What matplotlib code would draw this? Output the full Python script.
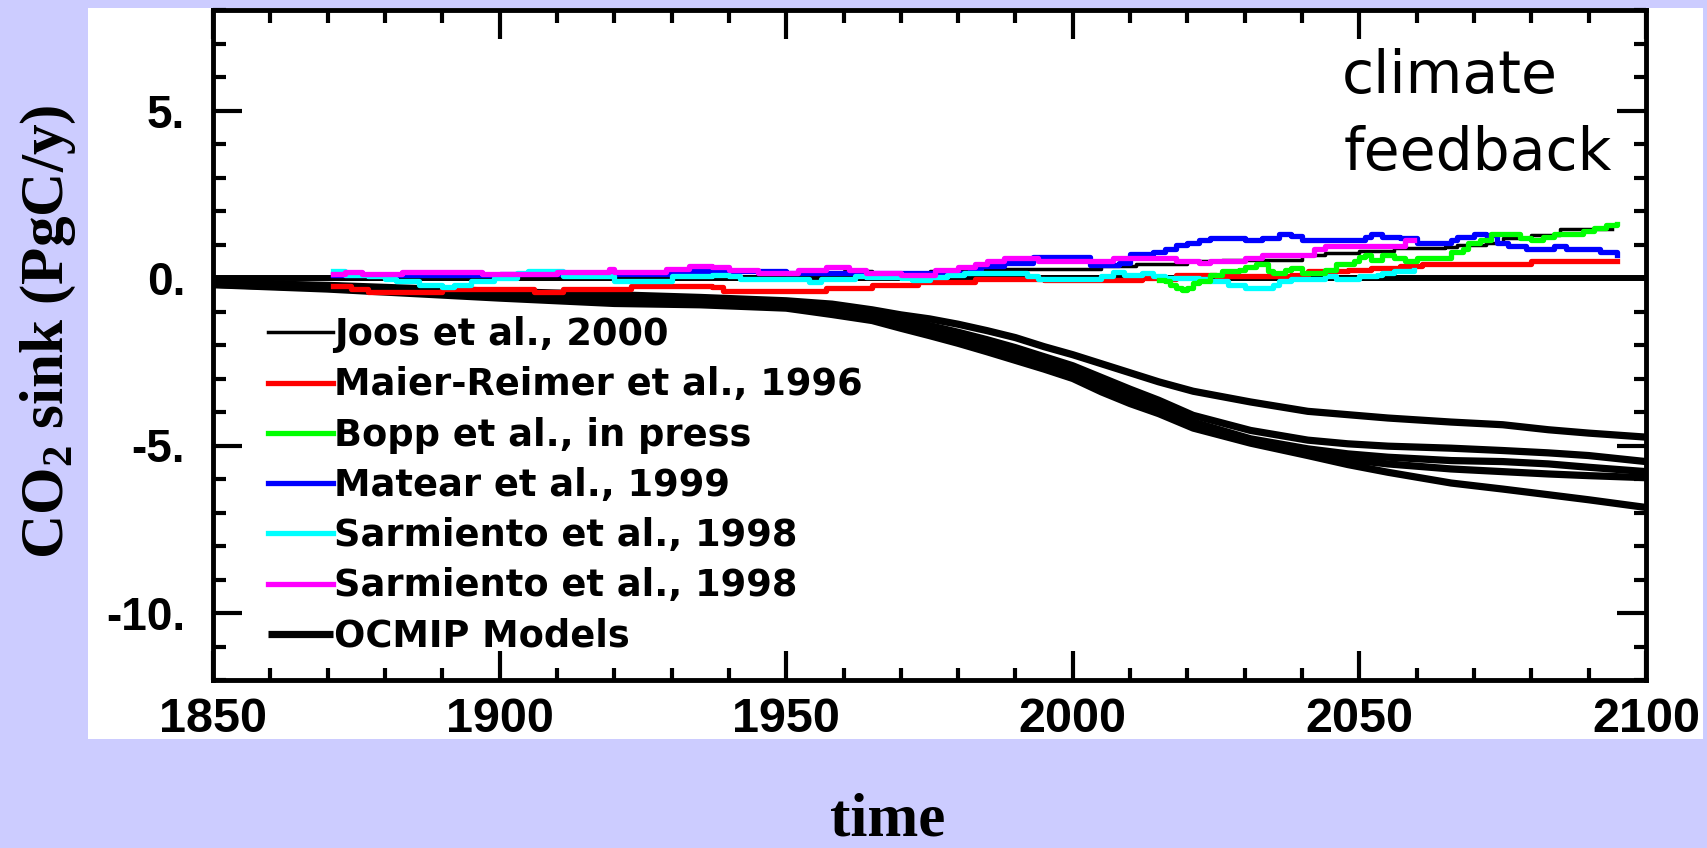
import numpy as np
import matplotlib
matplotlib.use("Agg")
import matplotlib.pyplot as plt
from matplotlib.patches import Rectangle
from matplotlib.ticker import MultipleLocator, FuncFormatter

# ---- data ----
joos_year = [1850, 1870, 1890, 1910, 1925, 1935, 1940, 1945, 1955, 1960, 1965, 1975, 1983, 2002,
             2005, 2011, 2017, 2020, 2026, 2034, 2040, 2044, 2050, 2056, 2065, 2067, 2072, 2075,
             2080, 2085, 2094]
joos_val = [0.0, 0.0, 0.05, 0.08, 0.15, 0.2, 0.2, 0.1, 0.1, 0.2, 0.15, 0.2, 0.28, 0.28,
            0.35, 0.42, 0.42, 0.5, 0.55, 0.55, 0.7, 0.75, 0.82, 0.9, 0.92, 1.0, 1.05, 1.18,
            1.27, 1.45, 1.45]

maier_year = [1871, 1874, 1877, 1888, 1890, 1904, 1906, 1909, 1911, 1921, 1923, 1937, 1939, 1955,
              1957, 1963, 1965, 1971, 1973, 1981, 1983, 1991, 1995, 2005, 2012, 2015, 2018, 2022,
              2025, 2035, 2038, 2041, 2044, 2048, 2052, 2057, 2061, 2078, 2080, 2095]
maier_val = [-0.25, -0.33, -0.43, -0.43, -0.33, -0.33, -0.43, -0.43, -0.33, -0.33, -0.25, -0.28,
             -0.38, -0.38, -0.3, -0.3, -0.2, -0.2, -0.12, -0.12, -0.03, -0.03, -0.05, -0.05, 0.0,
             -0.03, 0.1, 0.1, 0.06, 0.06, 0.1, 0.2, 0.2, 0.25, 0.3, 0.35, 0.42, 0.42, 0.51, 0.51]

bopp_year = [2015, 2016, 2017, 2018, 2019, 2020, 2021, 2022, 2024, 2026, 2029, 2030, 2032, 2034,
             2035, 2037, 2038, 2040, 2042, 2044, 2046, 2049, 2050, 2051, 2052, 2054, 2056, 2058,
             2060, 2064, 2066, 2068, 2069, 2071, 2073, 2076, 2078, 2080, 2082, 2084, 2088, 2089,
             2091, 2093, 2095]
bopp_val = [-0.05, -0.1, -0.2, -0.3, -0.35, -0.3, -0.15, -0.1, 0.1, 0.2, 0.25, 0.33, 0.42, 0.2,
            0.15, 0.25, 0.3, 0.15, 0.15, 0.25, 0.42, 0.51, 0.62, 0.7, 0.55, 0.7, 0.6, 0.5,
            0.6, 0.6, 0.78, 0.86, 1.04, 1.13, 1.3, 1.3, 1.2, 1.13, 1.22, 1.3, 1.3, 1.4,
            1.48, 1.58, 1.6]

matear_year = [1871, 1900, 1930, 1950, 1970, 1982, 1984, 1988, 1991, 1993, 1998, 2001, 2003, 2007,
               2008, 2010, 2014, 2016, 2018, 2020, 2022, 2024, 2028, 2030, 2033, 2036, 2038, 2040,
               2049, 2051, 2052, 2054, 2057, 2060, 2064, 2066, 2067, 2070, 2072, 2074, 2076, 2079,
               2083, 2084, 2086, 2090, 2092, 2095]
matear_val = [0.1, 0.12, 0.2, 0.15, 0.15, 0.28, 0.36, 0.46, 0.46, 0.62, 0.64, 0.64, 0.4, 0.4,
              0.46, 0.73, 0.78, 0.86, 1.0, 1.04, 1.13, 1.2, 1.2, 1.13, 1.2, 1.31, 1.25, 1.13,
              1.13, 1.22, 1.31, 1.22, 1.2, 1.04, 1.04, 1.13, 1.22, 1.31, 1.28, 1.04, 0.95, 0.86,
              0.86, 0.95, 0.86, 0.86, 0.78, 0.69]

sarm_a_year = [1871, 1873, 1877, 1880, 1882, 1886, 1890, 1892, 1895, 1899, 1903, 1905, 1909, 1911,
               1919, 1920, 1929, 1930, 1937, 1940, 1942, 1953, 1954, 1956, 1960, 1962, 1964, 1970,
               1972, 1975, 1978, 1981, 1990, 1992, 1994, 2002, 2005, 2007, 2009, 2012, 2014, 2016,
               2022, 2024, 2027, 2030, 2033, 2035, 2036, 2038, 2042, 2044, 2046, 2049, 2050, 2053,
               2054, 2056, 2059.5]
sarm_a_val = [0.2, 0.1, 0.05, -0.03, -0.1, -0.2, -0.28, -0.2, -0.1, 0.0, 0.15, 0.2, 0.2, 0.05,
              0.05, -0.1, -0.1, 0.05, 0.1, 0.06, -0.03, -0.03, -0.12, -0.03, -0.03, 0.06, 0.03, 0.0,
              -0.05, 0.03, 0.1, 0.15, 0.15, 0.06, -0.03, -0.03, 0.06, 0.18, 0.1, 0.15, 0.06, 0.0,
              -0.03, -0.1, -0.2, -0.3, -0.3, -0.2, -0.1, -0.03, -0.03, 0.06, -0.03, -0.03, 0.06, 0.1,
              0.15, 0.2, 0.25]

sarm_b_year = [1871, 1873, 1876, 1883, 1897, 1910, 1919, 1920, 1929, 1933, 1937, 1940, 1945, 1952,
               1957, 1961, 1964, 1970, 1976, 1980, 1983, 1985, 1988, 1993, 1994, 2006, 2007, 2016,
               2018, 2022, 2024, 2030, 2033, 2040, 2042, 2044, 2056, 2058, 2059.5]
sarm_b_val = [0.11, 0.19, 0.11, 0.19, 0.11, 0.19, 0.27, 0.19, 0.27, 0.35, 0.33, 0.24, 0.15, 0.24,
              0.33, 0.24, 0.15, 0.1, 0.24, 0.33, 0.42, 0.51, 0.6, 0.6, 0.51, 0.51, 0.6, 0.6,
              0.51, 0.45, 0.51, 0.6, 0.69, 0.69, 0.86, 0.95, 0.95, 1.13, 1.13]

# OCMIP model runs
ocmip_year = [1850, 1870, 1900, 1920, 1935, 1950, 1958, 1965, 1970, 1975, 1980, 1985, 1990, 1995,
              2000, 2005, 2010, 2015, 2021, 2031, 2041, 2048, 2055, 2066, 2075, 2083, 2090, 2100]
ocmip_a = [-0.14, -0.22, -0.4, -0.5, -0.58, -0.68, -0.78, -0.95, -1.1, -1.22, -1.38, -1.57, -1.78,
           -2.05, -2.29, -2.56, -2.83, -3.1, -3.38, -3.7, -3.98, -4.08, -4.18, -4.3, -4.38, -4.53,
           -4.63, -4.75]
ocmip_b = [-0.15, -0.24, -0.45, -0.6, -0.65, -0.75, -0.85, -1.05, -1.25, -1.42, -1.62, -1.84, -2.08,
           -2.35, -2.62, -2.97, -3.32, -3.65, -4.1, -4.55, -4.84, -4.95, -5.02, -5.08, -5.15, -5.22,
           -5.3, -5.48]
ocmip_c = [-0.17, -0.27, -0.5, -0.65, -0.7, -0.8, -0.95, -1.15, -1.35, -1.55, -1.75, -1.98, -2.22,
           -2.48, -2.75, -3.1, -3.5, -3.85, -4.3, -4.8, -5.1, -5.25, -5.35, -5.45, -5.48, -5.55,
           -5.65, -5.78]
ocmip_d = [-0.19, -0.3, -0.55, -0.7, -0.75, -0.85, -1.02, -1.2, -1.42, -1.63, -1.85, -2.1, -2.35,
           -2.6, -2.88, -3.25, -3.62, -3.95, -4.4, -4.88, -5.2, -5.42, -5.55, -5.7, -5.78, -5.85,
           -5.9, -5.96]
ocmip_e = [-0.2, -0.33, -0.6, -0.76, -0.8, -0.9, -1.09, -1.27, -1.5, -1.72, -1.95, -2.2, -2.46,
           -2.72, -3.0, -3.4, -3.75, -4.05, -4.48, -4.93, -5.3, -5.57, -5.8, -6.12, -6.3, -6.47,
           -6.62, -6.85]

labels = ["Joos et al., 2000", "Maier-Reimer et al., 1996", "Bopp et al., in press",
          "Matear et al., 1999", "Sarmiento et al., 1998", "Sarmiento et al., 1998", "OCMIP Models"]

# ---- figure ----
plt.rcParams["mathtext.fontset"] = "custom"
plt.rcParams["mathtext.rm"] = "Liberation Serif:bold"
plt.rcParams["mathtext.bf"] = "Liberation Serif:bold"

W, H = 1708, 848
fig = plt.figure(figsize=(W / 100, H / 100), dpi=100, facecolor="#ccccff")
fig.patches.append(Rectangle((88 / W, 1 - 739 / H), (1703 - 88) / W, (739 - 8) / H,
                             transform=fig.transFigure, facecolor="white", edgecolor="none",
                             zorder=-10))

ax = fig.add_axes([213 / W, 1 - 680 / H, (1646 - 213) / W, (680 - 10) / H])
ax.set_zorder(1)
ax.set_facecolor("white")

ax.axhline(0, color="black", lw=4.3, zorder=2)

ocmip_lines = None
for vals in [ocmip_a, ocmip_b, ocmip_c, ocmip_d, ocmip_e]:
    ocmip_lines, = ax.plot(ocmip_year, vals, color="black", lw=5.2, zorder=1,
                           solid_capstyle="butt")

st = "steps-post"
h_joos, = ax.plot(joos_year, joos_val, color="black", lw=2.5, zorder=3, drawstyle=st)
h_red, = ax.plot(maier_year, maier_val, color="red", lw=3.8, zorder=4, drawstyle=st)
h_cyan, = ax.plot(sarm_a_year, sarm_a_val, color="cyan", lw=3.8, zorder=5, drawstyle=st)
h_green, = ax.plot(bopp_year, bopp_val, color="#00ff00", lw=3.8, zorder=6, drawstyle=st)
h_blue, = ax.plot(matear_year, matear_val, color="blue", lw=3.8, zorder=4.5, drawstyle=st)
h_mag, = ax.plot(sarm_b_year, sarm_b_val, color="magenta", lw=3.8, zorder=7, drawstyle=st)

ax.set_xlim(1850, 2100)
ax.set_ylim(-12, 8)
ax.xaxis.set_major_locator(MultipleLocator(50))
ax.xaxis.set_minor_locator(MultipleLocator(10))
ax.yaxis.set_major_locator(MultipleLocator(5))
ax.yaxis.set_minor_locator(MultipleLocator(1))
ax.yaxis.set_major_formatter(FuncFormatter(lambda v, p: f"{v:.0f}."))

for s in ax.spines.values():
    s.set_linewidth(3.5)
ax.tick_params(which="both", direction="in", top=True, right=True, width=3, color="black")
ax.tick_params(which="major", length=21)
ax.tick_params(which="minor", length=9)
ax.tick_params(axis="x", pad=12)
ax.tick_params(axis="y", pad=20)
for t in ax.get_xticklabels():
    t.set_fontfamily(["Liberation Sans", "DejaVu Sans"])
    t.set_fontweight("bold")
    t.set_fontsize(35)
for t in ax.get_yticklabels():
    t.set_fontfamily(["Liberation Sans", "DejaVu Sans"])
    t.set_fontweight("bold")
    t.set_fontsize(33)

leg = ax.legend([h_joos, h_red, h_green, h_blue, h_cyan, h_mag, ocmip_lines], labels,
                loc="upper left", bbox_to_anchor=(0.0384, 0.543), frameon=False,
                borderpad=0, borderaxespad=0, handlelength=1.77, handletextpad=0.03,
                labelspacing=0.36, prop={"family": "DejaVu Sans", "weight": "bold", "size": 26.5})
leg.set_zorder(10)

ax.text((1342 - 213) / (1646 - 213), (680 - 93) / 670, "climate",
        transform=ax.transAxes, fontsize=42, family="DejaVu Sans", va="baseline", ha="left")
ax.text((1344 - 213) / (1646 - 213), (680 - 170) / 670, "feedback",
        transform=ax.transAxes, fontsize=42, family="DejaVu Sans", va="baseline", ha="left")

fig.text(48 / W, 1 - 332 / H, r"CO$_\mathrm{2}$ sink (PgC/y)", rotation=90, ha="center",
         va="center", fontsize=44, family="Liberation Serif", fontweight="bold")
fig.text(888 / W, 1 - 836 / H, "time", ha="center", va="baseline", fontsize=44,
         family="Liberation Serif", fontweight="bold")

fig.savefig("out.png", dpi=100, facecolor=fig.get_facecolor())
